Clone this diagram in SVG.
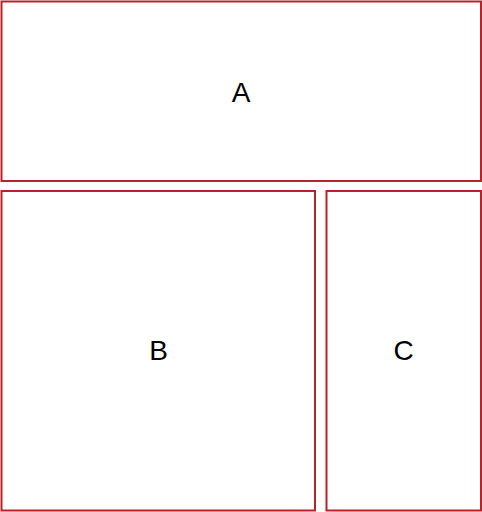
<svg xmlns="http://www.w3.org/2000/svg" width="482" height="512" viewBox="0 0 482 512">
<style>
.box{fill:#ffffff;stroke:#b8232a;stroke-width:2}
.lbl{font-family:"Liberation Sans",Arial,sans-serif;font-size:28px;fill:#000;text-anchor:middle;dominant-baseline:central}
</style>
<rect width="482" height="512" fill="#ffffff"/>
<g id="A"><rect class="box" x="1.5" y="1.5" width="479.5" height="179.5"/><text class="lbl" x="241" y="92">A</text></g>
<g id="B"><rect class="box" x="1.5" y="191" width="313.5" height="319.5"/><text class="lbl" x="158.5" y="350">B</text></g>
<g id="C"><rect class="box" x="326.5" y="191" width="154.5" height="319.5"/><text class="lbl" x="403.5" y="350">C</text></g>
<g id="connectors"></g>
</svg>
